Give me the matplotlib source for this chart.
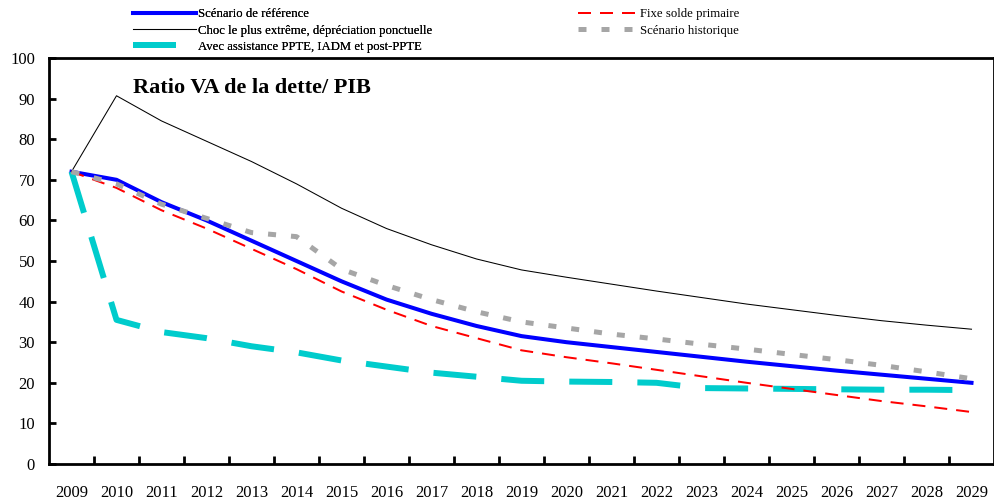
import matplotlib
matplotlib.use("Agg")
from matplotlib import pyplot as plt
from matplotlib.ticker import FixedLocator
import numpy as np

plt.rcParams['font.family'] = ['Liberation Serif', 'DejaVu Serif']

years = [str(y) for y in range(2009, 2030)]

reference = [72, 70, 64.5, 60, 55, 50, 45, 40.5, 37, 34, 31.5, 30, 28.8, 27.6,
             26.4, 25.2, 24.1, 23, 22, 21, 20]
extreme_shock = [72, 90.7, 84.5, 79.5, 74.5, 69, 63, 58, 54, 50.5, 47.8, 46,
                 44.3, 42.6, 41, 39.4, 38, 36.6, 35.3, 34.2, 33.2]
fixed_primary = [72, 68, 62.5, 58, 53, 48, 42.5, 38, 34, 31, 28, 26.3, 24.8,
                 23.2, 21.6, 20, 18.5, 17, 15.5, 14.2, 12.8]
historical = [72, 69, 64, 60.5, 57, 56, 48, 44, 40.5, 37.5, 35, 33.5, 32,
              30.8, 29.5, 28.3, 27, 25.7, 24.3, 22.7, 21]
with_hipc = [72, 35.5, 32.5, 31, 29, 27.5, 25.5, 24, 22.5, 21.5, 20.5, 20.3,
             20.2, 20, 18.7, 18.6, 18.5, 18.4, 18.3, 18.3, 18.2]

W, H = 995, 503
fig = plt.figure(figsize=(W / 100, H / 100), dpi=100)
ax = fig.add_axes([49 / W, (H - 464) / H, 945 / W, 406 / H])

x = np.arange(len(years))

l_ref, = ax.plot(x, reference, color='#0000ff', lw=2.9, solid_joinstyle='round')
l_shock, = ax.plot(x, extreme_shock, color='black', lw=0.75)
l_hipc, = ax.plot(x, with_hipc, color='#00cccc', lw=4.3,
                  linestyle=(0, (7.2, 4.2)), dash_capstyle='butt')
l_fix, = ax.plot(x, fixed_primary, color='#ff0000', lw=1.44,
                 linestyle=(0, (6.5, 4.5)), dash_capstyle='butt')
l_hist, = ax.plot(x, historical, color='#a6a6a6', lw=3.6,
                  linestyle=(0, (1.6, 3.0)), dash_capstyle='butt')

ax.set_xlim(-0.5, len(years) - 0.5)
ax.set_ylim(0, 100)
ax.set_yticks(range(0, 101, 10))
ax.set_xticks(x)
ax.set_xticklabels(years)
ax.xaxis.set_minor_locator(FixedLocator(np.arange(0.5, len(years) - 1, 1)))

ax.tick_params(axis='y', direction='in', length=5, width=2, labelsize=12, pad=10)
ax.tick_params(axis='x', which='major', length=0, labelsize=12, pad=15)
ax.tick_params(axis='x', which='minor', direction='in', length=6, width=2)
for s in ax.spines.values():
    s.set_linewidth(2)

ax.text((133 - 49) / 945, (464 - 88) / 406, 'Ratio VA de la dette/ PIB',
        transform=ax.transAxes, fontsize=16, fontweight='bold', va='center')

leg1 = fig.legend([l_ref, l_shock, l_hipc],
                  ['Scénario de référence',
                   'Choc le plus extrême, dépréciation ponctuelle',
                   'Avec assistance PPTE, IADM et post-PPTE'],
                  loc='upper left', bbox_to_anchor=(127 / W, 1 - 2 / H),
                  frameon=False, fontsize=9.2, handlelength=4.9,
                  handletextpad=0.12, borderpad=0, labelspacing=0.33)
fig.legend([l_fix, l_hist], ['Fixe solde primaire', 'Scénario historique'],
           loc='upper left', bbox_to_anchor=(572 / W, 1 - 2 / H),
           frameon=False, fontsize=9.2, handlelength=4.7,
           handletextpad=0.12, borderpad=0, labelspacing=0.33)
fig.add_artist(leg1)

fig.savefig('out.png', dpi=100)
